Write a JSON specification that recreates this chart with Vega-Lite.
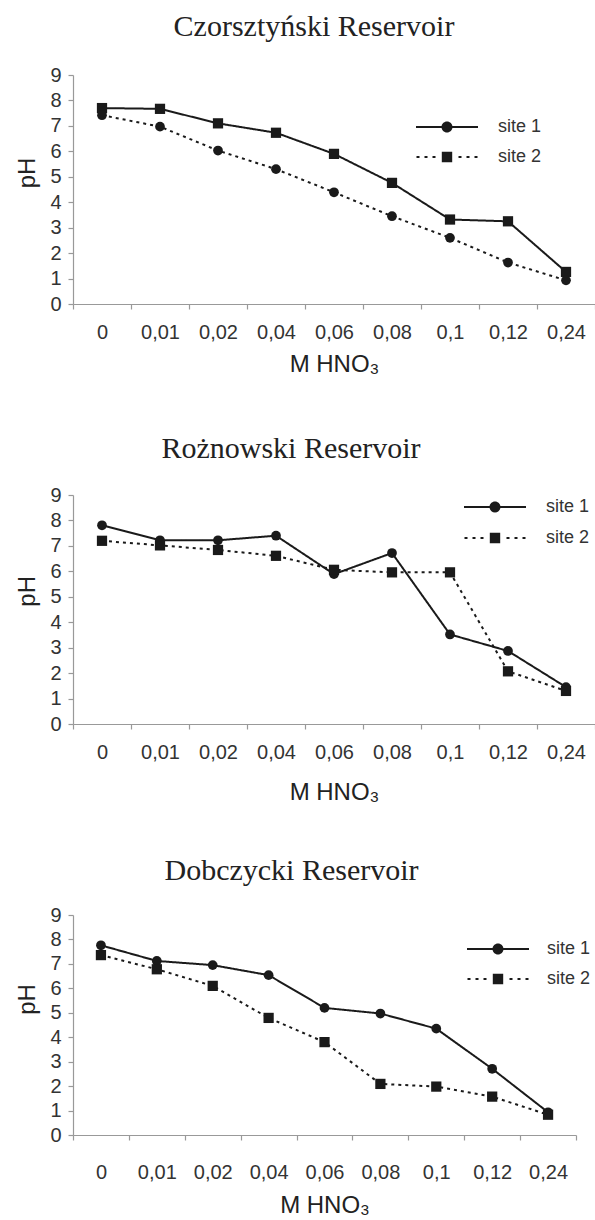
{
  "$schema": "https://vega.github.io/schema/vega-lite/v6.json",
  "background": "white",
  "padding": {"left": 15, "top": 12, "right": 0, "bottom": 0},
  "datasets": {
    "czorsztyn": [
      {"c": "0", "site": "site 1", "pH": 7.7},
      {"c": "0,01", "site": "site 1", "pH": 7.67},
      {"c": "0,02", "site": "site 1", "pH": 7.1},
      {"c": "0,04", "site": "site 1", "pH": 6.73},
      {"c": "0,06", "site": "site 1", "pH": 5.9},
      {"c": "0,08", "site": "site 1", "pH": 4.76},
      {"c": "0,1", "site": "site 1", "pH": 3.32},
      {"c": "0,12", "site": "site 1", "pH": 3.25},
      {"c": "0,24", "site": "site 1", "pH": 1.26},
      {"c": "0", "site": "site 2", "pH": 7.42},
      {"c": "0,01", "site": "site 2", "pH": 6.97},
      {"c": "0,02", "site": "site 2", "pH": 6.03},
      {"c": "0,04", "site": "site 2", "pH": 5.3},
      {"c": "0,06", "site": "site 2", "pH": 4.39},
      {"c": "0,08", "site": "site 2", "pH": 3.45},
      {"c": "0,1", "site": "site 2", "pH": 2.6},
      {"c": "0,12", "site": "site 2", "pH": 1.63},
      {"c": "0,24", "site": "site 2", "pH": 0.93}
    ],
    "roznow": [
      {"c": "0", "site": "site 1", "pH": 7.81},
      {"c": "0,01", "site": "site 1", "pH": 7.22},
      {"c": "0,02", "site": "site 1", "pH": 7.22},
      {"c": "0,04", "site": "site 1", "pH": 7.4},
      {"c": "0,06", "site": "site 1", "pH": 5.89},
      {"c": "0,08", "site": "site 1", "pH": 6.72},
      {"c": "0,1", "site": "site 1", "pH": 3.52},
      {"c": "0,12", "site": "site 1", "pH": 2.87},
      {"c": "0,24", "site": "site 1", "pH": 1.45},
      {"c": "0", "site": "site 2", "pH": 7.2},
      {"c": "0,01", "site": "site 2", "pH": 7.02},
      {"c": "0,02", "site": "site 2", "pH": 6.84},
      {"c": "0,04", "site": "site 2", "pH": 6.61},
      {"c": "0,06", "site": "site 2", "pH": 6.06},
      {"c": "0,08", "site": "site 2", "pH": 5.96},
      {"c": "0,1", "site": "site 2", "pH": 5.96},
      {"c": "0,12", "site": "site 2", "pH": 2.07},
      {"c": "0,24", "site": "site 2", "pH": 1.3}
    ],
    "dobczyce": [
      {"c": "0", "site": "site 1", "pH": 7.76},
      {"c": "0,01", "site": "site 1", "pH": 7.12},
      {"c": "0,02", "site": "site 1", "pH": 6.95},
      {"c": "0,04", "site": "site 1", "pH": 6.54},
      {"c": "0,06", "site": "site 1", "pH": 5.2},
      {"c": "0,08", "site": "site 1", "pH": 4.97},
      {"c": "0,1", "site": "site 1", "pH": 4.35},
      {"c": "0,12", "site": "site 1", "pH": 2.71},
      {"c": "0,24", "site": "site 1", "pH": 0.93},
      {"c": "0", "site": "site 2", "pH": 7.36},
      {"c": "0,01", "site": "site 2", "pH": 6.78},
      {"c": "0,02", "site": "site 2", "pH": 6.1},
      {"c": "0,04", "site": "site 2", "pH": 4.79},
      {"c": "0,06", "site": "site 2", "pH": 3.8},
      {"c": "0,08", "site": "site 2", "pH": 2.09},
      {"c": "0,1", "site": "site 2", "pH": 1.98},
      {"c": "0,12", "site": "site 2", "pH": 1.57},
      {"c": "0,24", "site": "site 2", "pH": 0.83}
    ]
  },
  "config": {
    "view": {"stroke": null},
    "axis": {
      "grid": false,
      "labelFont": "Liberation Sans",
      "labelFontSize": 20,
      "labelColor": "#333333",
      "titleFont": "Liberation Sans",
      "titleFontSize": 24,
      "titleFontWeight": "normal",
      "titleColor": "#222222",
      "domainColor": "#999999",
      "tickColor": "#999999",
      "tickSize": 5,
      "domainWidth": 1.2,
      "tickWidth": 1.2
    },
    "title": {
      "font": "Liberation Serif",
      "fontSize": 30,
      "fontWeight": "normal",
      "color": "#222222",
      "anchor": "middle",
      "frame": "group"
    },
    "legend": {
      "orient": "none",
      "title": null,
      "symbolSize": 400,
      "symbolOpacity": 1,
      "symbolStrokeWidth": 0,
      "symbolFillColor": "#1a1a1a",
      "rowPadding": 11,
      "padding": 0,
      "labelFont": "Liberation Sans",
      "labelFontSize": 18,
      "labelColor": "#333333"
    }
  },
  "resolve": {
    "scale": {"shape": "independent"},
    "legend": {"shape": "independent"}
  },
  "bounds": "flush",
  "spacing": 191,
  "vconcat": [
    {
      "width": 522,
      "height": 229,
      "title": {"text": "Czorsztyński Reservoir", "offset": 23, "dx": -20},
      "data": {"name": "czorsztyn"},
      "encoding": {
        "x": {"field": "c", "type": "nominal", "sort": ["0", "0,01", "0,02", "0,04", "0,06", "0,08", "0,1", "0,12", "0,24"],
          "scale": {"type": "band", "paddingInner": 0, "paddingOuter": 0},
          "axis": {"title": "M HNO₃", "labelAngle": 0, "tickBand": "extent", "labelPadding": 13, "titlePadding": 10}},
        "y": {"field": "pH", "type": "quantitative", "scale": {"domain": [0, 9], "nice": false},
          "axis": {"title": "pH", "values": [0, 1, 2, 3, 4, 5, 6, 7, 8, 9], "labelPadding": 7, "titlePadding": 10, "titleY": 97.5}}
      },
      "layer": [
        {
          "mark": {"type": "line", "color": "#1a1a1a", "strokeWidth": 2},
          "encoding": {
            "strokeDash": {"field": "site", "type": "nominal",
              "scale": {"domain": ["site 1", "site 2"], "range": [[1, 0], [3, 4]]}, "legend": null}
          }
        },
        {
          "transform": [{"filter": "datum.site === 'site 1'"}],
          "mark": {"type": "point", "shape": "square", "filled": true, "opacity": 1, "color": "#1a1a1a", "size": 105}
        },
        {
          "transform": [{"filter": "datum.site === 'site 2'"}],
          "mark": {"type": "point", "shape": "circle", "filled": true, "opacity": 1, "color": "#1a1a1a", "size": 95}
        },
        {
          "mark": {"type": "point", "filled": true, "opacity": 0, "color": "#1a1a1a"},
          "encoding": {
            "shape": {"field": "site", "type": "nominal",
              "scale": {"domain": ["site 1", "site 2"], "range": [
                "M-3.1,-0.1H3.1V0.1H-3.1Z M-0.55,0A0.55,0.55,0,1,1,0.55,0A0.55,0.55,0,1,1,-0.55,0Z",
                "M-3.05,-0.1H-2.75V0.1H-3.05Z M-2.25,-0.1H-1.95V0.1H-2.25Z M-1.45,-0.1H-1.15V0.1H-1.45Z M1.15,-0.1H1.45V0.1H1.15Z M1.95,-0.1H2.25V0.1H1.95Z M2.75,-0.1H3.05V0.1H2.75Z M-0.52,-0.52H0.52V0.52H-0.52Z"]},
              "legend": {"legendX": 364, "legendY": 42, "labelOffset": 41}}
          }
        }
      ]
    },
    {
      "width": 522,
      "height": 229,
      "title": {"text": "Rożnowski Reservoir", "offset": 21, "dx": -43},
      "data": {"name": "roznow"},
      "encoding": {
        "x": {"field": "c", "type": "nominal", "sort": ["0", "0,01", "0,02", "0,04", "0,06", "0,08", "0,1", "0,12", "0,24"],
          "scale": {"type": "band", "paddingInner": 0, "paddingOuter": 0},
          "axis": {"title": "M HNO₃", "labelAngle": 0, "tickBand": "extent", "labelPadding": 13.5, "titlePadding": 18}},
        "y": {"field": "pH", "type": "quantitative", "scale": {"domain": [0, 9], "nice": false},
          "axis": {"title": "pH", "values": [0, 1, 2, 3, 4, 5, 6, 7, 8, 9], "labelPadding": 7, "titlePadding": 10, "titleY": 95.8}}
      },
      "layer": [
        {
          "mark": {"type": "line", "color": "#1a1a1a", "strokeWidth": 2},
          "encoding": {
            "strokeDash": {"field": "site", "type": "nominal",
              "scale": {"domain": ["site 1", "site 2"], "range": [[1, 0], [3, 4]]}, "legend": null}
          }
        },
        {
          "transform": [{"filter": "datum.site === 'site 1'"}],
          "mark": {"type": "point", "shape": "circle", "filled": true, "opacity": 1, "color": "#1a1a1a", "size": 95}
        },
        {
          "transform": [{"filter": "datum.site === 'site 2'"}],
          "mark": {"type": "point", "shape": "square", "filled": true, "opacity": 1, "color": "#1a1a1a", "size": 105}
        },
        {
          "mark": {"type": "point", "filled": true, "opacity": 0, "color": "#1a1a1a"},
          "encoding": {
            "shape": {"field": "site", "type": "nominal",
              "scale": {"domain": ["site 1", "site 2"], "range": [
                "M-3.1,-0.1H3.1V0.1H-3.1Z M-0.55,0A0.55,0.55,0,1,1,0.55,0A0.55,0.55,0,1,1,-0.55,0Z",
                "M-3.05,-0.1H-2.75V0.1H-3.05Z M-2.25,-0.1H-1.95V0.1H-2.25Z M-1.45,-0.1H-1.15V0.1H-1.45Z M1.15,-0.1H1.45V0.1H1.15Z M1.95,-0.1H2.25V0.1H1.95Z M2.75,-0.1H3.05V0.1H2.75Z M-0.52,-0.52H0.52V0.52H-0.52Z"]},
              "legend": {"legendX": 412, "legendY": 2, "labelOffset": 41, "rowPadding": 12}}
          }
        }
      ]
    },
    {
      "width": 503,
      "height": 220,
      "title": {"text": "Dobczycki Reservoir", "offset": 19, "dx": -33},
      "data": {"name": "dobczyce"},
      "encoding": {
        "x": {"field": "c", "type": "nominal", "sort": ["0", "0,01", "0,02", "0,04", "0,06", "0,08", "0,1", "0,12", "0,24"],
          "scale": {"type": "band", "paddingInner": 0, "paddingOuter": 0},
          "axis": {"title": "M HNO₃", "labelAngle": 0, "tickBand": "extent", "labelPadding": 22.5, "titlePadding": 11}},
        "y": {"field": "pH", "type": "quantitative", "scale": {"domain": [0, 9], "nice": false},
          "axis": {"title": "pH", "values": [0, 1, 2, 3, 4, 5, 6, 7, 8, 9], "labelPadding": 7, "titlePadding": 10, "titleY": 84}}
      },
      "layer": [
        {
          "mark": {"type": "line", "color": "#1a1a1a", "strokeWidth": 2},
          "encoding": {
            "strokeDash": {"field": "site", "type": "nominal",
              "scale": {"domain": ["site 1", "site 2"], "range": [[1, 0], [3, 4]]}, "legend": null}
          }
        },
        {
          "transform": [{"filter": "datum.site === 'site 1'"}],
          "mark": {"type": "point", "shape": "circle", "filled": true, "opacity": 1, "color": "#1a1a1a", "size": 95}
        },
        {
          "transform": [{"filter": "datum.site === 'site 2'"}],
          "mark": {"type": "point", "shape": "square", "filled": true, "opacity": 1, "color": "#1a1a1a", "size": 105}
        },
        {
          "mark": {"type": "point", "filled": true, "opacity": 0, "color": "#1a1a1a"},
          "encoding": {
            "shape": {"field": "site", "type": "nominal",
              "scale": {"domain": ["site 1", "site 2"], "range": [
                "M-3.1,-0.1H3.1V0.1H-3.1Z M-0.55,0A0.55,0.55,0,1,1,0.55,0A0.55,0.55,0,1,1,-0.55,0Z",
                "M-3.05,-0.1H-2.75V0.1H-3.05Z M-2.25,-0.1H-1.95V0.1H-2.25Z M-1.45,-0.1H-1.15V0.1H-1.45Z M1.15,-0.1H1.45V0.1H1.15Z M1.95,-0.1H2.25V0.1H1.95Z M2.75,-0.1H3.05V0.1H2.75Z M-0.52,-0.52H0.52V0.52H-0.52Z"]},
              "legend": {"legendX": 415, "legendY": 24, "labelOffset": 39}}
          }
        }
      ]
    }
  ]
}
